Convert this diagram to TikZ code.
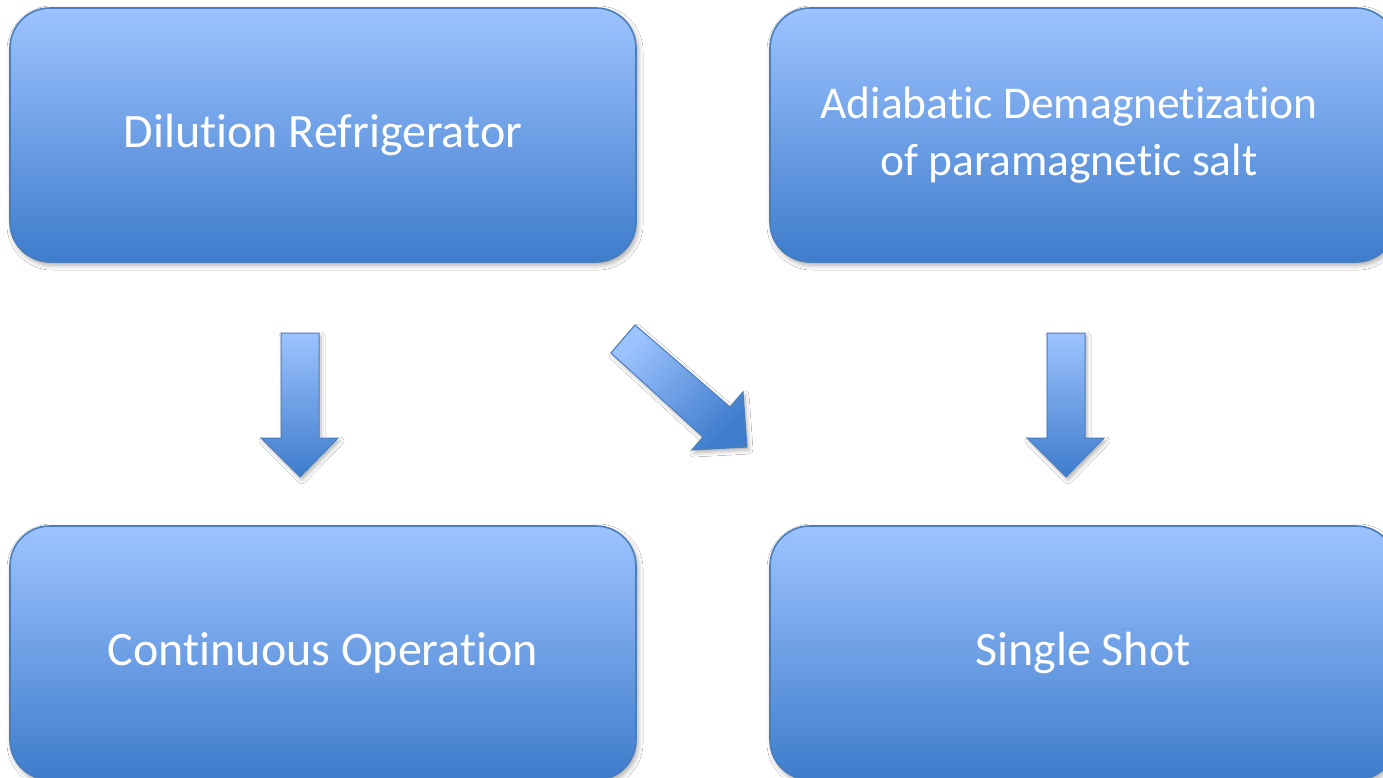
\documentclass[tikz,border=0pt]{standalone}
\usepackage{fontspec}
\setmainfont{Carlito}[Ligatures={NoCommon}]
\usetikzlibrary{shadows.blur}

\definecolor{boxtop}{RGB}{157,195,255}
\definecolor{boxbot}{RGB}{62,124,204}
\definecolor{boxedge}{RGB}{74,126,187}

\tikzset{
  panel/.style={
    rounded corners=40pt, draw=boxedge, line width=1.6pt,
    top color=boxtop, bottom color=boxbot,
    minimum width=626pt, minimum height=254pt,
    text=white, align=center, inner sep=0pt,
    blur shadow={shadow xshift=2pt, shadow yshift=-3pt,
                 shadow blur radius=5pt, shadow opacity=35}},
  panelfont/.style={font=\fontsize{48}{58}\selectfont},
  twolinefont/.style={font=\fontsize{45.5}{58}\selectfont},
  blockarrow/.style={
    draw=boxedge, line width=1pt, line join=miter,
    top color=boxtop, bottom color=boxbot,
    blur shadow={shadow xshift=2pt, shadow yshift=-3pt,
                 shadow blur radius=4pt, shadow opacity=30}}
}

\begin{document}
\begin{tikzpicture}[x=1pt, y=-1pt]
  \useasboundingbox[fill=white] (0,0) rectangle (1383,777);

  % four stages
  \node[panel, panelfont]   (dil)  at (323,135)  {Dilution Refrigerator};
  \node[panel, twolinefont] (adr)  at (1083,135)
    {\hspace*{-28pt}\begin{tabular}{@{}c@{}}Adiabatic Demagnetization\\[-1pt]of paramagnetic salt\end{tabular}};
  \node[panel, panelfont]   (cont) at (323,653)  {Continuous Operation};
  \node[panel, panelfont]   (shot) at (1083,653) {Single Shot};

  % block arrows between the stages
  \path[blockarrow] (281,333) -- (319,333) -- (319,438) -- (338,438)
        -- (300,477) -- (261,438) -- (281,438) -- cycle;
  \path[blockarrow] (1047,333) -- (1085,333) -- (1085,438) -- (1104,438)
        -- (1066,477) -- (1027,438) -- (1047,438) -- cycle;
  \path[blockarrow, shading angle=45] (635,325) -- (730,407) -- (743,392)
        -- (747,447) -- (692,450) -- (703,437) -- (611,353) -- cycle;
\end{tikzpicture}
\end{document}
